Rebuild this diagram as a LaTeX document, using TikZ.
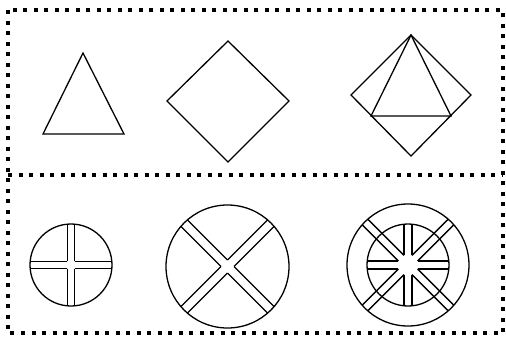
\documentclass[tikz,border=0pt]{standalone}
\usetikzlibrary{calc}
\begin{document}
\begin{tikzpicture}[x=1pt, y=-1pt, line join=miter,
  outline/.style={draw=black, line width=1.3pt},
  dotframe/.style={draw=black, line width=4pt, dash pattern=on 4pt off 6.5pt}]
  \useasboundingbox (0,0) rectangle (506,341);
  % frame
  \draw[dotframe] (8,10) rectangle (503,333);
  \draw[dotframe] (8,175) -- (503,175);
  % top row
  \coordinate (tri top) at (83,53);
  \coordinate (tri left) at (43,134);
  \coordinate (tri right) at (124,134);
  \draw[outline] (tri top) -- (tri left) -- (tri right) -- cycle;
  \coordinate (dia top) at (228,41);
  \coordinate (dia right) at (289,101);
  \coordinate (dia bot) at (228,162);
  \coordinate (dia left) at (167,101);
  \draw[outline] (dia top) -- (dia right) -- (dia bot) -- (dia left) -- cycle;
  \coordinate (mix top) at (411,35);
  \coordinate (mix right) at (471,95);
  \coordinate (mix bot) at (411,156);
  \coordinate (mix left) at (351,95);
  \coordinate (mix bl) at (371,116);
  \coordinate (mix br) at (451,116);
  \draw[outline] (mix top) -- (mix right) -- (mix bot) -- (mix left) -- cycle;
  \draw[outline] (mix top) -- (mix bl) -- (mix br) -- cycle;
  % bottom row
  \coordinate (c1) at (71,265);
  \coordinate (c2) at (227.5,266.5);
  \coordinate (c3) at (408,265);
  \draw[outline] (c1) circle (41);
  \draw[outline] (c2) circle (61.5);
  \draw[outline] (c3) circle (41) (c3) circle (61);
  \foreach \a in {0,90,180,270}
    \draw[outline, shift={(c1)}, rotate=\a]
      (3.7,3.7) -- ({sqrt(41*41-3.7*3.7)},3.7)
      (3.7,-3.7) -- ({sqrt(41*41-3.7*3.7)},-3.7);
  \foreach \a in {45,135,225,315}
    \draw[outline, shift={(c2)}, rotate=\a]
      (4.6,4.6) -- ({sqrt(61.5*61.5-4.6*4.6)},4.6)
      (4.6,-4.6) -- ({sqrt(61.5*61.5-4.6*4.6)},-4.6);
  \foreach \a/\r in {0/41,90/41,180/41,270/41,45/61,135/61,225/61,315/61}
    \draw[outline, shift={(c3)}, rotate=\a]
      (9.66,4) -- ({sqrt(\r*\r-16)},4)
      (9.66,-4) -- ({sqrt(\r*\r-16)},-4);
\end{tikzpicture}
\end{document}
